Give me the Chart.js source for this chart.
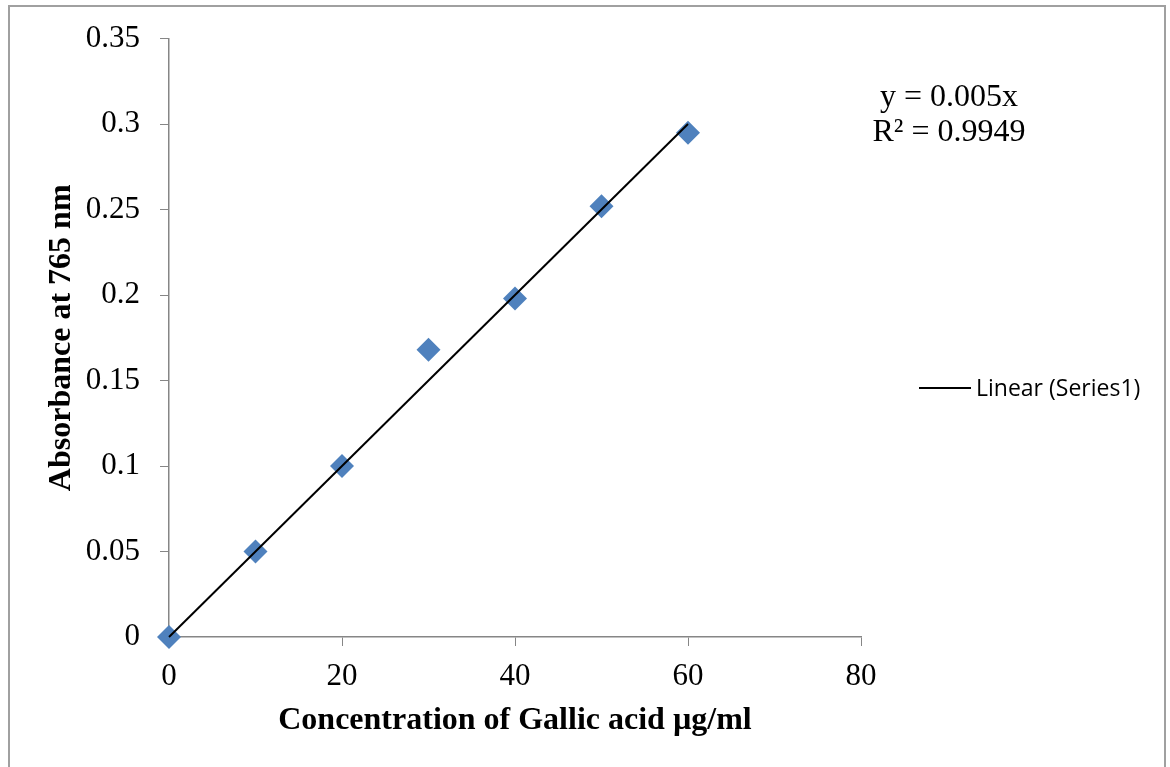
<!DOCTYPE html>
<html>
<head>
<meta charset="utf-8">
<script src="https://cdn.jsdelivr.net/npm/chart.js@4.4.1/dist/chart.umd.min.js"></script>
<style>
  html, body { margin: 0; padding: 0; background: #fff; }
  #frame { position: absolute; left: 8px; top: 5px; width: 1158px; height: 800px; border: 2px solid #a0a0a0; box-sizing: border-box; }
  #wrap { position: absolute; left: 0; top: 0; width: 1170px; height: 767px; }
</style>
</head>
<body>
<div id="frame"></div>
<div id="wrap"><canvas id="calChart"></canvas></div>
<script>
// Gallic acid calibration data
const concentration = [0, 10, 20, 30, 40, 50, 60];
const absorbance = [0, 0.05, 0.1, 0.168, 0.198, 0.252, 0.295];

// trendline y = 0.005x, drawn over the data range
const trendX = [0, 60];
const trendY = [0, 0.3];

const yTickLabels = ['0', '0.05', '0.1', '0.15', '0.2', '0.25', '0.3', '0.35'];
const xTickLabels = ['0', '20', '40', '60', '80'];

const equationLines = ['y = 0.005x', 'R\u00b2 = 0.9949'];

const serif = "'Liberation Serif', 'Times New Roman', serif";

// draws the trendline equation and the legend entry for the trendline
const annotationPlugin = {
    id: 'annotations',
    afterDraw(chart) {
        const ctx = chart.ctx;
        ctx.save();
        ctx.fillStyle = '#000';
        ctx.font = '32px ' + serif;
        ctx.textAlign = 'center';
        ctx.textBaseline = 'alphabetic';
        equationLines.forEach((line, i) => {
            ctx.fillText(line, 949, 106 + i * 35);
        });

        // legend item (only the trendline is listed, like Excel)
        const trend = chart.data.datasets[1];
        ctx.strokeStyle = '#000';
        ctx.lineWidth = 2;
        ctx.beginPath();
        ctx.moveTo(919, 388);
        ctx.lineTo(971, 388);
        ctx.stroke();
        ctx.font = "23px 'Open Sans', sans-serif";
        ctx.textAlign = 'left';
        ctx.textBaseline = 'middle';
        ctx.fillText(trend.label, 976, 389);
        ctx.restore();
    }
};

const ctx = document.getElementById('calChart').getContext('2d');
const chart = new Chart(ctx, {
    type: 'scatter',
    data: {
        datasets: [{
            label: 'Series1',
            data: concentration.map((x, i) => ({ x: x, y: absorbance[i] })),
            pointStyle: 'rectRot',
            pointRadius: 12,
            pointHoverRadius: 12,
            backgroundColor: '#4F81BD',
            borderColor: '#4F81BD',
            borderWidth: 0,
            clip: false,
            order: 2
        }, {
            label: 'Linear (Series1)',
            type: 'line',
            data: trendX.map((x, i) => ({ x: x, y: trendY[i] })),
            borderColor: '#000',
            borderWidth: 2,
            pointRadius: 0,
            fill: false,
            clip: false,
            order: 1
        }]
    },
    options: {
        responsive: true,
        maintainAspectRatio: false,
        animation: false,
        layout: {
            padding: { top: 37, right: 309, left: 0, bottom: 0 }
        },
        plugins: {
            legend: { display: false },
            tooltip: { enabled: false }
        },
        scales: {
            x: {
                type: 'linear',
                min: 0,
                max: 80,
                ticks: {
                    stepSize: 20,
                    padding: 12,
                    color: '#000',
                    font: { family: serif, size: 31 },
                    callback: (value) => xTickLabels[Math.round(value / 20)]
                },
                grid: {
                    drawOnChartArea: false,
                    tickLength: 9,
                    color: '#868686',
                    tickColor: '#868686'
                },
                border: { color: '#868686', width: 1.5 },
                title: {
                    display: true,
                    text: 'Concentration of Gallic acid \u00b5g/ml',
                    color: '#000',
                    font: { family: serif, size: 32, weight: 'bold' },
                    padding: { top: 0, bottom: 27 }
                },
                afterFit: (scale) => { scale.height = 130; }
            },
            y: {
                min: 0,
                max: 0.35,
                ticks: {
                    stepSize: 0.05,
                    padding: 20,
                    color: '#000',
                    font: { family: serif, size: 31 },
                    callback: (value) => yTickLabels[Math.round(value / 0.05)]
                },
                grid: {
                    drawOnChartArea: false,
                    tickLength: 9,
                    color: '#868686',
                    tickColor: '#868686'
                },
                border: { color: '#868686', width: 1.5 },
                title: {
                    display: true,
                    text: 'Absorbance at 765 nm',
                    color: '#000',
                    font: { family: serif, size: 32, weight: 'bold' },
                    padding: { top: 43, bottom: 0 }
                },
                afterFit: (scale) => { scale.width = 169; }
            }
        }
    },
    plugins: [annotationPlugin]
});
</script>
</body>
</html>
